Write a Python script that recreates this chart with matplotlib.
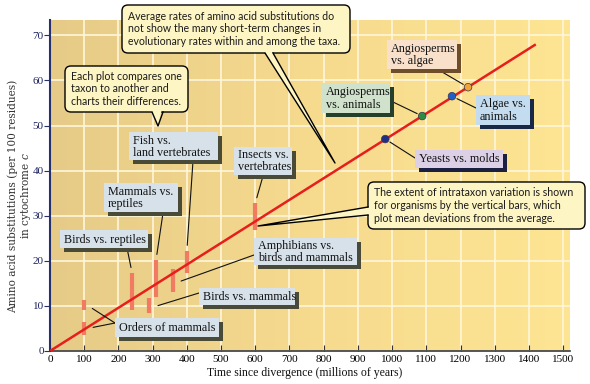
import numpy as np
import matplotlib
matplotlib.use("Agg")
import matplotlib.pyplot as plt
from matplotlib.patches import FancyBboxPatch, Polygon
from matplotlib.lines import Line2D
from matplotlib.transforms import IdentityTransform
from matplotlib.colors import LinearSegmentedColormap

#-------------------------------------------------------------------------------------------------
# data

rate_x = [0, 1420]
rate_y = [0, 68]

bar_x  = [100, 100, 240, 290, 310, 360, 400, 600]
bar_lo = [3.5, 9.0, 9.0, 8.5, 12.0, 13.0, 17.3, 26.8]
bar_hi = [6.5, 11.2, 17.3, 11.7, 20.2, 18.2, 22.2, 32.8]

dot_x = [980, 1088, 1175, 1222]
dot_y = [47.0, 52.1, 56.5, 58.5]
dot_colors = ["#1f2f86", "#2f8a44", "#1f5fc6", "#f3a437"]

x_ticks = list(range(0, 1600, 100))
y_ticks = list(range(0, 80, 10))

#-------------------------------------------------------------------------------------------------

W, H = 590, 384
SERIF = "Liberation Serif"
SANS = "Lato"
plt.rcParams["mathtext.fontset"] = "custom"
plt.rcParams["mathtext.it"] = "DejaVu Serif:italic"
plt.rcParams["mathtext.rm"] = "DejaVu Serif"

fig = plt.figure(figsize=(W / 100, H / 100), dpi=100)
fig.patch.set_facecolor("white")
ax = fig.add_axes([50 / W, 33 / H, 520 / W, 331 / H])

ID = IdentityTransform()

def P(x, y):
	# picture pixel (top-left origin) -> display coords
	return (x, H - y)

# background gradient
bg = LinearSegmentedColormap.from_list("bg", ["#e6cb88", "#f6da8e", "#fde593"])
ax.imshow(np.linspace(0, 1, 256).reshape(1, -1), cmap=bg, aspect="auto",
		  extent=(0, 1520, 0, 73.4), zorder=0, interpolation="bilinear")
ax.set_xlim(0, 1520)
ax.set_ylim(0, 73.4)

ax.set_axisbelow(True)
ax.set_xticks(x_ticks)
ax.set_yticks(y_ticks)
ax.grid(True, color="#fff7da", lw=1.2)
for s in ["top", "right"]:
	ax.spines[s].set_visible(False)
ax.spines["left"].set_color("#27306c")
ax.spines["left"].set_linewidth(1.5)
ax.spines["bottom"].set_color("#3a3a3a")
ax.spines["bottom"].set_linewidth(1.2)
ax.tick_params(axis="x", direction="in", length=4, color="#333333", labelsize=8, pad=3)
ax.tick_params(axis="y", direction="out", length=4, color="#27306c", labelsize=8, labelcolor="#1c2360", pad=0.5)
for lab in ax.get_xticklabels() + ax.get_yticklabels():
	lab.set_fontfamily(SERIF)

# marks
ax.vlines(bar_x, bar_lo, bar_hi, colors="#f07a62", lw=3, zorder=3)
ax.plot(rate_x, rate_y, color="#e61e1c", lw=1.8, zorder=4, solid_capstyle="butt")
ax.scatter(dot_x, dot_y, s=30, c=dot_colors, edgecolors="#333355", linewidths=0.5, zorder=5)

# axis titles
fig.text(*P(20, 196), "Amino acid substitutions (per 100 residues)\nin cytochrome $\\it{c}$",
		 transform=ID, rotation=90, ha="center", va="center", ma="center",
		 fontsize=7.6, family="DejaVu Serif", color="#333333", linespacing=1.05)
fig.text(*P(305, 373), "Time since divergence (millions of years)", transform=ID,
		 ha="center", va="center", fontsize=8.5, family=SERIF, color="#111111")

#-------------------------------------------------------------------------------------------------
# callouts (rounded yellow boxes with pointers)

def callout(x0, y0, x1, y1, text, base, tip):
	box = FancyBboxPatch(P(x0, y1), x1 - x0, y1 - y0, boxstyle="round,pad=0,rounding_size=6",
						 transform=ID, fc="#fdf5c4", ec="black", lw=1.0, zorder=10)
	fig.add_artist(box)
	(bx0, by0), (bx1, by1) = base
	pts = [P(bx0, by0), P(tip[0], tip[1]), P(bx1, by1)]
	# fill reaching a bit inside the box to hide its border
	cx, cy = (x0 + x1) / 2, (y0 + y1) / 2
	inner = [P(bx0 + (cx - bx0) * 0.04, by0 + (cy - by0) * 0.08), P(tip[0], tip[1]),
			 P(bx1 + (cx - bx1) * 0.04, by1 + (cy - by1) * 0.08)]
	fig.add_artist(Polygon(inner, closed=True, transform=ID, fc="#fdf5c4", ec="none", zorder=11))
	fig.add_artist(Line2D([pts[0][0], pts[1][0], pts[2][0]], [pts[0][1], pts[1][1], pts[2][1]],
						  transform=ID, color="black", lw=1.0, zorder=12))
	fig.text(*P(x0 + 6, (y0 + y1) / 2), text, transform=ID, ha="left", va="center",
			 fontsize=7.6, family=SANS, color="#1a1a1a", linespacing=1.2, zorder=13)

callout(122, 5, 350, 53,
		"Average rates of amino acid substitutions do\nnot show the many short-term changes in\nevolutionary rates within and among the taxa.",
		((265, 53), (273, 53)), (335, 163))
callout(65, 66, 188, 112,
		"Each plot compares one\ntaxon to another and\ncharts their differences.",
		((152, 112), (163, 112)), (158, 126))
callout(368, 182, 585, 229,
		"The extent of intrataxon variation is shown\nfor organisms by the vertical bars, which\nplot mean deviations from the average.",
		((368, 207), (368, 215)), (258, 226))

#-------------------------------------------------------------------------------------------------
# labels with drop shadow and leader lines

BLUE, OLIVE = "#d6e1ea", "#4a4a38"

labels = [
	("Fish vs.\nland vertebrates", (129, 132, 218, 160), BLUE, OLIVE),
	("Insects vs.\nvertebrates", (234, 147, 292, 175), BLUE, OLIVE),
	("Mammals vs.\nreptiles", (104, 183, 178, 212), BLUE, OLIVE),
	("Birds vs. reptiles", (60, 230, 148, 248), BLUE, OLIVE),
	("Amphibians vs.\nbirds and mammals", (254, 238, 357, 265), BLUE, OLIVE),
	("Birds vs. mammals", (199, 288, 295, 305), BLUE, OLIVE),
	("Orders of mammals", (115, 318, 219, 337), BLUE, OLIVE),
	("Angiosperms\nvs. algae", (387, 40, 457, 69), "#f8e0ca", "#6e4e28"),
	("Angiosperms\nvs. animals", (322, 83, 390, 113), "#d0e2cc", "#24402c"),
	("Algae vs.\nanimals", (476, 95, 530, 125), "#c4dcf0", "#1a2848"),
	("Yeasts vs. molds", (415, 150, 503, 168), "#dcd0e6", "#1c2040"),
]

for text, (x0, y0, x1, y1), fc, sc in labels:
	fig.add_artist(FancyBboxPatch(P(x0 + 4, y1 + 4), x1 - x0, y1 - y0, boxstyle="square,pad=0",
								  transform=ID, fc=sc, ec="none", zorder=6))
	fig.add_artist(FancyBboxPatch(P(x0, y1), x1 - x0, y1 - y0, boxstyle="square,pad=0",
								  transform=ID, fc=fc, ec="none", zorder=7))
	fig.text(*P(x0 + 4, (y0 + y1) / 2 + 0.5), text, transform=ID, ha="left", va="center",
			 fontsize=8.7, family=SERIF, color="#111111", linespacing=1.0, zorder=8)

# leaders: (start pixel on label, target in data)
mid = [(lo + hi) / 2 for lo, hi in zip(bar_lo, bar_hi)]
leaders = [
	((193, 161), (bar_x[6], bar_hi[6])),
	((263, 176), (bar_x[7], bar_hi[7])),
	((163, 213), (bar_x[4], bar_hi[4])),
	((127, 248), (bar_x[2], bar_hi[2])),
	((254, 255), (bar_x[5] + 8, mid[5] - 0.5)),
	((199, 293), (bar_x[3] + 10, mid[3] - 0.4)),
	((115, 323), (bar_x[1] + 10, mid[1])),
	((115, 323), (bar_x[0] + 10, mid[0])),
	((437, 69), (dot_x[3], dot_y[3])),
	((393, 102), (dot_x[1], dot_y[1])),
	((476, 108), (dot_x[2], dot_y[2])),
	((415, 158), (dot_x[0], dot_y[0])),
]
for (px, py), (dx, dy) in leaders:
	ax.annotate("", xy=(dx, dy), xycoords="data", xytext=P(px, py), textcoords=ID,
				arrowprops=dict(arrowstyle="-", color="#111111", lw=0.8, shrinkA=0, shrinkB=4),
				zorder=6, annotation_clip=False)

fig.savefig("out.png", dpi=100)
